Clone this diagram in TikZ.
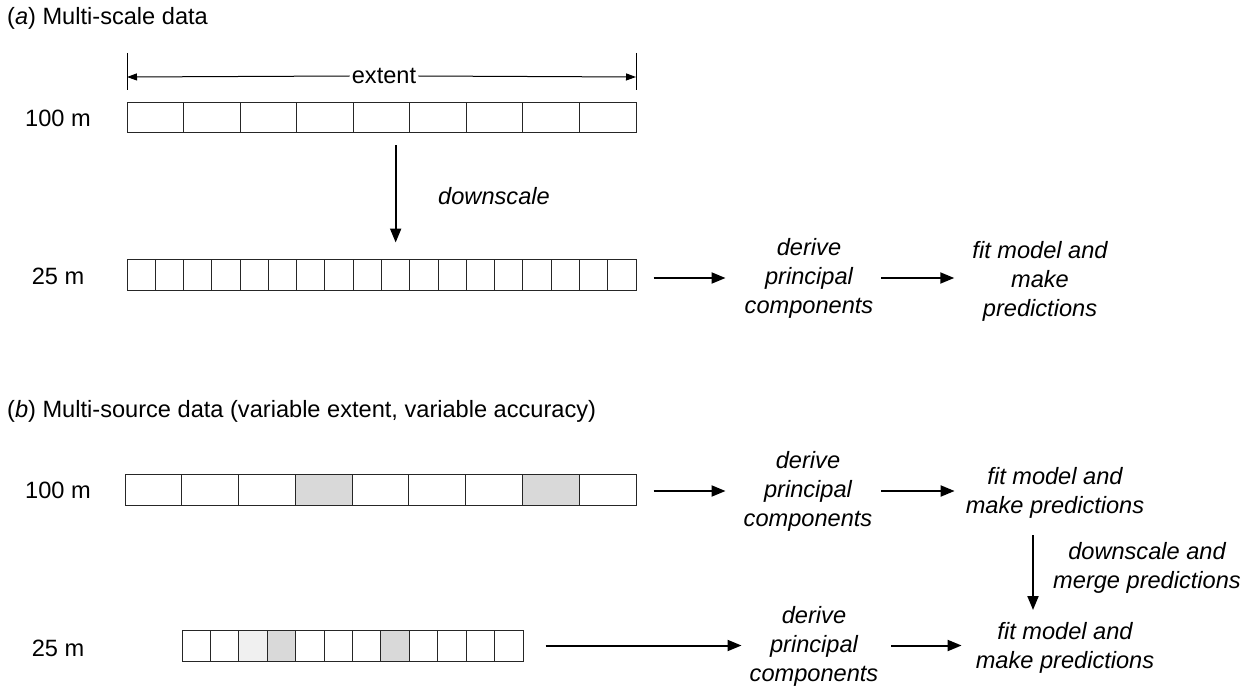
\documentclass[tikz,border=0pt]{standalone}
\usepackage{fontspec}
\setmainfont{Liberation Sans}
\usetikzlibrary{arrows.meta}
\newcommand\myfs{\fontsize{23.6}{29}\selectfont}
\definecolor{shadeA}{HTML}{D9D9D9}
\definecolor{shadeB}{HTML}{F0F0F0}
\begin{document}
\begin{tikzpicture}[x=1pt,y=-1pt,
  every node/.style={font=\myfs},
  cell/.style={draw=black!85, line width=1pt, minimum height=31pt, inner sep=0pt, fill=white},
  lbl/.style={font=\myfs\itshape, align=center, inner xsep=0pt, inner ysep=1pt},
  arr/.style={-{Triangle[length=14pt,width=11pt]}, line width=2pt},
  earr/.style={-{Triangle[length=10pt,width=7pt]}, line width=1pt},
  tick/.style={line width=1pt}]
\useasboundingbox[fill=white] (0,0) rectangle (1242,690);

% ---------- (a) ----------
\node[anchor=west, inner sep=0pt] (ta) at (7,18) {(\textit{a}) Multi-scale data};

\coordinate (tl1) at (127,53); \coordinate (tl2) at (127,90);
\coordinate (tr1) at (636,53); \coordinate (tr2) at (636,90);
\draw[tick] (tl1) -- (tl2);
\draw[tick] (tr1) -- (tr2);
\coordinate (el) at (127,77); \coordinate (er) at (636,77);
\node[fill=white, inner xsep=2pt, inner ysep=0pt] (ext) at (384,76) {extent};
\draw[earr] (ext.west) -- (el);
\draw[earr] (ext.east) -- (er);

\node (l100a) at (58,118) {100 m};
\foreach \i in {0,...,8}
  \node[cell, minimum width=56.56pt, minimum height=30pt] (a1-\i) at ({127+56.56*(\i+0.5)},118) {};

\node (l25a) at (58,276) {25 m};
\foreach \i in {0,...,17}
  \node[cell, minimum width=28.28pt] (a2-\i) at ({127+28.28*(\i+0.5)},274.5) {};

\draw[arr, shorten <=12pt, shorten >=16pt] (a1-4.south -| a2-9.center) -- (a2-9.north);
\node[lbl] (dsa) at (494,196) {downscale};

\node[lbl] (dpa) at (809,278) {derive\\principal\\components};
\node[lbl] (fita) at (1040,281) {fit model and\\make\\predictions};
\draw[arr, shorten <=17pt, shorten >=19pt] (a2-17.east |- dpa.west) -- (dpa.west);
\draw[arr, shorten <=8pt, shorten >=18pt] (dpa.east) -- (dpa.east -| fita.west);

% ---------- (b) ----------
\node[anchor=west, inner sep=0pt] (tb) at (7,411) {(\textit{b}) Multi-source data (variable extent, variable accuracy)};

\node (l100b) at (58,490) {100 m};
\foreach \i/\c in {0/white,1/white,2/white,3/shadeA,4/white,5/white,6/white,7/shadeA,8/white}
  \node[cell, fill=\c, minimum width=56.78pt] (b1-\i) at ({125+56.78*(\i+0.5)},489.5) {};

\node[lbl] (dpb1) at (808,491) {derive\\principal\\components};
\node[lbl] (fitb1) at (1055,492.5) {fit model and\\make predictions};
\draw[arr, shorten <=17pt, shorten >=18pt] (b1-8.east |- dpb1.west) -- (dpb1.west);
\draw[arr, shorten <=9pt, shorten >=11pt] (dpb1.east) -- (dpb1.east -| fitb1.west);

\coordinate (mtop) at (1033,535); \coordinate (mbot) at (1033,610);
\draw[arr] (mtop) -- (mbot);
\node[lbl] (dsb) at (1147,567.5) {downscale and\\merge predictions};

\node (l25b) at (58,648) {25 m};
\foreach \i/\c in {0/white,1/white,2/shadeB,3/shadeA,4/white,5/white,6/white,7/shadeA,8/white,9/white,10/white,11/white}
  \node[cell, fill=\c, minimum width=28.42pt] (b2-\i) at ({182+28.42*(\i+0.5)},645.5) {};

\node[lbl] (dpb2) at (814,646) {derive\\principal\\components};
\node[lbl] (fitb2) at (1065,648) {fit model and\\make predictions};
\draw[arr, shorten <=22pt, shorten >=8pt] (b2-11.east) -- (b2-11.east -| dpb2.west);
\draw[arr, shorten <=13pt, shorten >=14pt] (b2-11.east -| dpb2.east) -- (b2-11.east -| fitb2.west);
\end{tikzpicture}
\end{document}
